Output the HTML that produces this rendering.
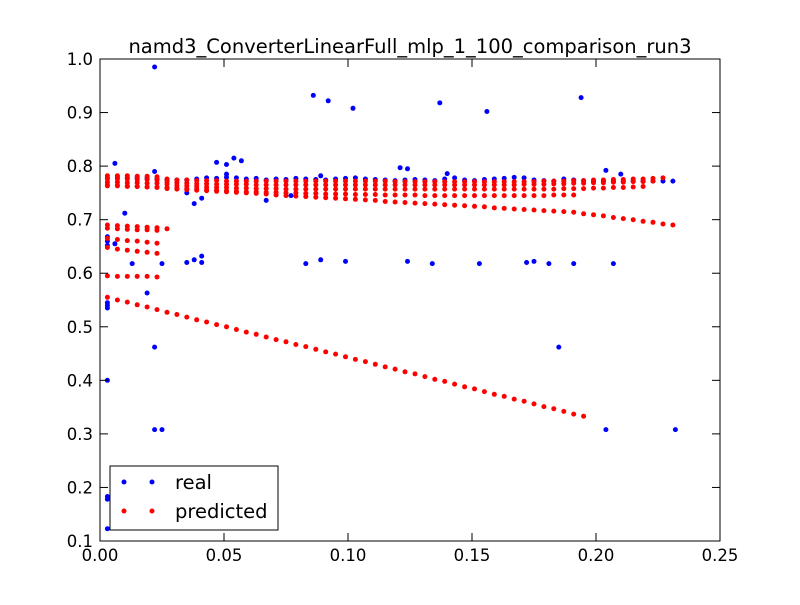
<!DOCTYPE html>
<html><head><meta charset="utf-8"><style>
body{margin:0;background:#fff;}
svg text{font-family:"DejaVu Sans","Liberation Sans",sans-serif;}
</style></head><body>
<svg id="chart" width="800" height="600" viewBox="0 0 800 600" xmlns="http://www.w3.org/2000/svg">
<rect width="800" height="600" fill="#fff"/>
<text x="410" y="53" font-size="19.5" text-anchor="middle">namd3_ConverterLinearFull_mlp_1_100_comparison_run3</text>
<g id="marks-real"></g>
<g id="marks-pred"></g>
<rect x="100" y="59" width="620" height="482" fill="none" stroke="#000" stroke-width="1"/>
<g id="axes"></g>
<g>
<rect x="110" y="466" width="168" height="64" fill="#fff" stroke="#000" stroke-width="1"/>
<circle cx="124" cy="482" r="2.5" fill="#00f"/><circle cx="152" cy="482" r="2.5" fill="#00f"/>
<text x="175" y="489" font-size="19.5">real</text>
<circle cx="124" cy="511" r="2.5" fill="#f00"/><circle cx="152" cy="511" r="2.5" fill="#f00"/>
<text x="175" y="518" font-size="19.5">predicted</text>
</g>
</svg>
<script>
const xTicks=[0,0.05,0.10,0.15,0.20,0.25];
const xTickLabels=["0.00","0.05","0.10","0.15","0.20","0.25"];
const yTicks=[0.1,0.2,0.3,0.4,0.5,0.6,0.7,0.8,0.9,1.0];
const yTickLabels=["0.1","0.2","0.3","0.4","0.5","0.6","0.7","0.8","0.9","1.0"];
const xCols=[0.003,0.007,0.011,0.015,0.019,0.023,0.027,0.031,0.035,0.039,0.043,0.047,0.051,0.055,0.059,0.063,0.067,0.071,0.075,0.079,0.083,0.087,0.091,0.095,0.099,0.103,0.107,0.111,0.115,0.119,0.123,0.127,0.131,0.135,0.139,0.143,0.147,0.151,0.155,0.159,0.163,0.167,0.171,0.175,0.179,0.183,0.187,0.191,0.195,0.199,0.203,0.207,0.211,0.215,0.219,0.223,0.227,0.231];
const predR1=[.782,.782,.782,.781,.781,.780,.776,.774,.774,.773,.773,.773,.772,.772,.772,.772,.772,.772,.772,.772,.772,.772,.772,.772,.772,.772,.772,.772,.772,.771,.771,.771,.771,.771,.771,.771,.771,.771,.771,.771,.771,.771,.771,.771,.772,.772,.772,.773,.773,.774,.774,.775,.775,.776,.776,.777,.778];
const predR2=[.776,.776,.776,.775,.775,.774,.771,.769,.768,.767,.767,.766,.766,.766,.766,.765,.765,.765,.765,.765,.765,.765,.765,.765,.765,.765,.765,.765,.765,.765,.765,.765,.765,.765,.765,.765,.765,.765,.765,.765,.765,.765,.766,.766,.766,.767,.767,.768,.768,.769,.769,.770,.770,.771,.771,.772];
const predR3=[.770,.770,.769,.769,.768,.768,.766,.764,.763,.762,.761,.760,.760,.759,.759,.758,.758,.758,.757,.757,.757,.757,.757,.757,.757,.757,.757,.757,.757,.757,.757,.757,.757,.757,.757,.757,.757,.757,.757,.757,.757,.757,.757,.757,.757,.757,.758,.758,.758,.759,.759,.760,.760,.761,.762];
const predR4=[.763,.763,.762,.762,.761,.761,.760,.759,.758,.757,.756,.755,.754,.753,.752,.752,.751,.751,.750,.750,.749,.749,.748,.748,.748,.747,.747,.747,.746,.746,.746,.746,.745,.745,.745,.745,.745,.745,.745,.745,.745,.745,.745,.745,.745,.746,.746,.746];
const predR7=[.765,.764,.763,.762,.761,.760,.758,.757,.756,.755,.754,.753,.752,.751,.750,.749,.748,.746,.745,.744,.743,.742,.741,.740,.739,.738,.737,.736,.734,.733,.732,.731,.730,.729,.728,.727,.726,.725,.724,.722,.721,.720,.719,.718,.717,.716,.715,.714,.711,.709,.707,.704,.702,.700,.697,.695,.692,.690];
const predL1=[.690,.689,.688,.687,.686,.685,.683];
const predL1b=[.684,.683,.682,.681,.681,.680];
const predL2=[.665,.663,.661,.660,.658,.656];
const predL3=[.648,.645,.643,.641,.639,.637];
const predL4=[.595,.594,.594,.594,.594,.593];
const predD=[.555,.550,.546,.541,.537,.532,.527,.523,.518,.513,.509,.504,.500,.495,.490,.486,.481,.476,.472,.467,.463,.458,.453,.449,.444,.439,.435,.430,.425,.421,.416,.412,.407,.402,.398,.393,.388,.384,.379,.374,.370,.365,.361,.356,.351,.347,.342,.337,.333];
const realRow=[.778,.779,.778,.778,.777,.776,.775,.774,.774,.776,.778,.777,.779,.778,.776,.777,.774,.776,.775,.777,.776,.775,.774,.776,.777,.778,.776,.775,.774,.773,.774,.775,.774,.773,.776,.778,.774,.773,.775,.776,.777,.779,.778,.774,.773,.772,.776,.774,.773,.772,.772,.772,.772,.772,.772,.772,.772,.772];
const realX=[0.022,0.086,0.092,0.102,0.137,0.156,0.194,0.006,0.047,0.051,0.054,0.057,0.121,0.124,0.022,0.204,0.210,0.038,0.041,0.067,0.010,0.003,0.003,0.006,0.003,0.013,0.025,0.035,0.038,0.041,0.041,0.083,0.089,0.099,0.124,0.134,0.153,0.172,0.175,0.181,0.191,0.207,0.019,0.003,0.003,0.003,0.022,0.185,0.003,0.022,0.025,0.204,0.232,0.003,0.003,0.003,0.077,0.035,0.051,0.089,0.140];
const realY=[0.985,0.932,0.922,0.908,0.918,0.902,0.928,0.805,0.807,0.803,0.815,0.810,0.797,0.795,0.790,0.792,0.785,0.730,0.740,0.736,0.712,0.668,0.660,0.655,0.652,0.618,0.618,0.620,0.625,0.632,0.620,0.618,0.625,0.622,0.622,0.618,0.618,0.620,0.622,0.618,0.618,0.618,0.563,0.545,0.540,0.535,0.462,0.462,0.400,0.308,0.308,0.308,0.308,0.183,0.178,0.123,0.745,0.750,0.785,0.782,0.786];

const X0=100,X1=720,Y0=541,Y1=59;
const sx=v=>X0+(v-0)/(0.25)*(X1-X0);
const sy=v=>Y0-(v-0.1)/(0.9)*(Y0-Y1);
const NS="http://www.w3.org/2000/svg";
function dot(g,x,y,c,name){
  const el=document.createElementNS(NS,"circle");
  
  
  el.setAttribute("cx",sx(x).toFixed(1));el.setAttribute("cy",sy(y).toFixed(1));
  el.setAttribute("r","2.5");el.setAttribute("fill",c);
  g.appendChild(el);
}
const gr=document.getElementById("marks-real"),gp=document.getElementById("marks-pred");
realRow.forEach((y,i)=>dot(gr,xCols[i],y,"#00f","real-point"));
realX.forEach((x,i)=>dot(gr,x,realY[i],"#00f","real-point"));
[predR7,predR4,predR3,predR2,predR1,predL1,predL1b,predL2,predL3,predL4,predD].forEach(arr=>arr.forEach((y,i)=>dot(gp,xCols[i],y,"#f00","predicted-point")));
const ax=document.getElementById("axes");
function line(x1,y1,x2,y2){const l=document.createElementNS(NS,"line");
  
  
  l.setAttribute("x1",x1);l.setAttribute("y1",y1);l.setAttribute("x2",x2);l.setAttribute("y2",y2);l.setAttribute("stroke","#000");ax.appendChild(l);}
function text(x,y,s,anchor,name){const t=document.createElementNS(NS,"text");
  
  
  t.setAttribute("x",x);t.setAttribute("y",y);t.setAttribute("font-size","16.5");t.setAttribute("text-anchor",anchor);t.textContent=s;ax.appendChild(t);}
xTicks.forEach((v,i)=>{const x=sx(v);line(x,Y0,x,Y0-8);line(x,Y1,x,Y1+8);text(x,Y0+20,xTickLabels[i],"middle","x-tick-label");});
yTicks.forEach((v,i)=>{const y=sy(v);line(X0,y,X0+8,y);line(X1,y,X1-8,y);text(X0-7,y+6,yTickLabels[i],"end","y-tick-label");});
</script>
</body></html>
